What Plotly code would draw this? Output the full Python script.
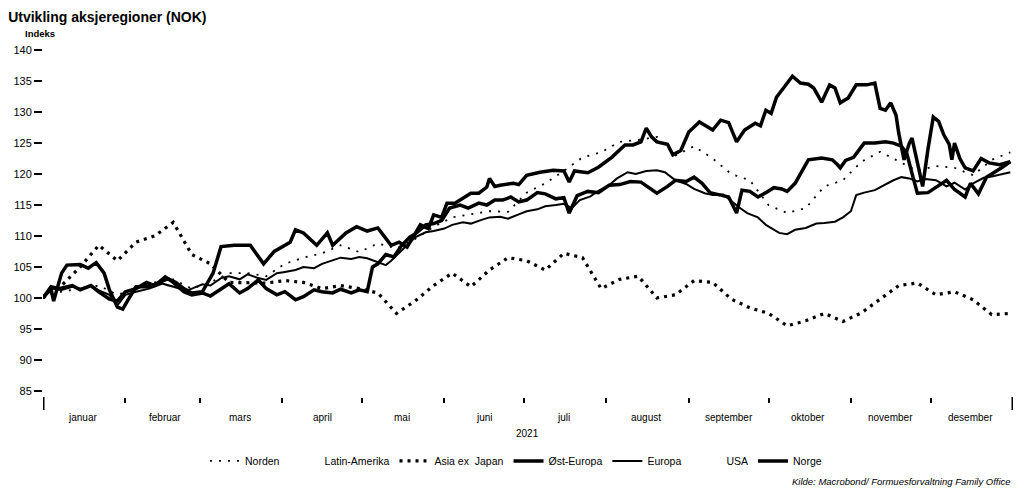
import pandas as pd
import plotly.graph_objects as go

# ---- data (index 2021-01-01 = 100) ----
# dotted series: weekly readings
dates = pd.date_range("2021-01-01", periods=53, freq="7D")

norden = [100, 101, 101.5, 102, 100.5, 101.5, 102.5, 103, 101.5, 102.5, 104, 104, 103.5,
          105.5, 106.5, 107.2, 108.5, 107.4, 108.8, 108, 109.5, 111.5, 113, 113.5, 114, 113.9,
          117, 118.5, 120.5, 122.7, 123.5, 125.2, 125.5, 126, 123, 124.5, 122.5, 120, 119,
          115, 113.7, 114.5, 118, 119, 122, 123.6, 122, 120.5, 121.3, 121, 119.8, 122.3, 123.5]

asia_ex_japan = [100, 102, 105, 108.5, 106, 109, 110, 112.2, 107, 105.5, 102.5, 102.5, 102.4,
                 102.8, 102.5, 101.5, 102, 101.5, 100.8, 97.5, 99.5, 102, 104, 101.8, 104.5, 106.5,
                 106, 104.5, 107.2, 106.5, 101.5, 103, 103.5, 100, 100.5, 102.8, 102.5, 99.8, 98.4,
                 97.5, 95.5, 96.3, 97.5, 96.2, 97.6, 99.8, 102, 102.4, 100.5, 101, 99.7, 97.3, 97.5]

# solid series: readings at turning points (month-day in 2021)
ost_europa_days = ["01-01", "01-04", "01-05", "01-08", "01-10", "01-15", "01-18", "01-21", "01-24",
                   "01-26", "01-29", "01-31", "02-02", "02-05", "02-10", "02-14", "02-17", "02-20",
                   "02-23", "02-26", "03-02", "03-06", "03-09", "03-14", "03-20", "03-25", "03-29",
                   "04-04", "04-06", "04-09", "04-14", "04-18", "04-20", "04-25", "04-29", "05-03",
                   "05-07", "05-12", "05-15", "05-18", "05-21", "05-23", "05-26", "05-28", "05-31",
                   "06-02", "06-05", "06-07", "06-11", "06-14", "06-17", "06-18", "06-20", "06-22",
                   "06-27", "06-29", "07-02", "07-07", "07-12", "07-16", "07-18", "07-20", "07-25",
                   "07-29", "08-03", "08-08", "08-11", "08-14", "08-16", "08-18", "08-20", "08-24",
                   "08-26", "08-29", "09-01", "09-05", "09-10", "09-13", "09-16", "09-19", "09-22",
                   "09-26", "09-28", "09-30", "10-02", "10-04", "10-07", "10-10", "10-13", "10-16",
                   "10-18", "10-21", "10-24", "10-26", "10-28", "10-31", "11-03", "11-07", "11-10",
                   "11-12", "11-14", "11-16", "11-18", "11-19", "11-21", "11-23", "11-24", "11-26",
                   "11-28", "11-30", "12-02", "12-04", "12-06", "12-08", "12-09", "12-10", "12-12",
                   "12-14", "12-17", "12-20", "12-23", "12-27", "12-31"]
ost_europa = [100, 101.5, 99.5, 104, 105.3, 105.4, 104.8, 105.7, 104,
              101.3, 98.5, 98.2, 99.7, 101.8, 101.8, 102.5, 103.1, 102.5,
              101.5, 100.8, 101, 104, 108.3, 108.5, 108.5, 105.5, 107.5,
              109, 111, 110.5, 108.5, 110.5, 108.5, 110.5, 111.5, 110.8,
              111.3, 108.5, 109, 108.2, 110.5, 111.8, 111.2, 113.4, 113,
              115.3, 115.3, 115.8, 116.9, 116.9, 117.9, 119.3, 118, 118.2,
              118.5, 118.3, 119.8, 120.3, 120.6, 120.5, 118.7, 120.5, 120.2,
              121.1, 122.7, 124.7, 124.7, 125.2, 127.4, 126, 125.2, 124.8,
              123.1, 123.8, 126.8, 128.4, 127.1, 128.7, 128.3, 125.2, 127.1,
              128.2, 127.8, 130.3, 129.8, 132.4, 134, 135.8, 134.7, 134.5,
              133.9, 131.6, 134.4, 133.9, 131.5, 132.3, 134.4, 134.4, 134.7,
              130.6, 130.3, 131.5, 129.5, 126.6, 122.3, 125, 125.8, 122,
              118, 124, 129.2, 128.5, 126.3, 124.8, 122.3, 125, 122.5,
              121, 120.5, 122.5, 121.8, 121.5, 122]

norge_days = ["01-01", "01-04", "01-07", "01-12", "01-15", "01-19", "01-22", "01-26", "01-29",
              "02-01", "02-05", "02-09", "02-12", "02-16", "02-19", "02-23", "02-26", "03-02",
              "03-05", "03-09", "03-12", "03-16", "03-19", "03-23", "03-26", "03-30", "04-02",
              "04-06", "04-09", "04-13", "04-16", "04-20", "04-23", "04-27", "04-30", "05-03",
              "05-05", "05-07", "05-10", "05-13", "05-16", "05-19", "05-21", "05-25", "05-28",
              "05-31", "06-03", "06-07", "06-10", "06-14", "06-17", "06-20", "06-23", "06-26",
              "06-29", "07-02", "07-06", "07-09", "07-13", "07-16", "07-18", "07-21", "07-25",
              "07-29", "08-02", "08-06", "08-10", "08-14", "08-17", "08-20", "08-24", "08-27",
              "08-31", "09-03", "09-06", "09-09", "09-13", "09-16", "09-19", "09-21", "09-24",
              "09-27", "09-30", "10-03", "10-06", "10-08", "10-11", "10-13", "10-16", "10-21",
              "10-25", "10-27", "10-28", "10-30", "11-02", "11-06", "11-10", "11-14", "11-17",
              "11-20", "11-22", "11-24", "11-26", "11-30", "12-03", "12-07", "12-10", "12-14",
              "12-16", "12-19", "12-22", "12-26", "12-28", "12-31"]
norge = [100, 101.8, 101.5, 102, 101.3, 102, 101, 99.8, 99.5,
         101, 101.5, 102.5, 102, 103.4, 102.5, 101, 100.5, 100.8,
         100.3, 101.5, 102.3, 100.8, 101.5, 102.9, 101.5, 100.5, 101,
         99.7, 100.2, 101.3, 101, 100.8, 101.4, 100.8, 101.3, 101,
         105, 105.5, 107, 106.6, 108.5, 109.8, 110.3, 111.8, 112,
         112.5, 114.5, 115, 114.5, 115.3, 115, 115.8, 115.8, 116.3,
         115.5, 115.8, 117, 116.8, 116, 116.2, 113.7, 116.5, 117.2,
         117, 118.2, 118.3, 118.8, 118.7, 117.8, 116.9, 118, 119,
         118.8, 119.5, 118.5, 117, 116.6, 116.3, 113.7, 117.4, 117.2,
         116.3, 117, 117.8, 117.6, 117.2, 118.5, 120.1, 122.3, 122.6,
         122.3, 121.5, 121, 122.2, 122.7, 125, 125, 125.2, 125,
         124.5, 123.4, 120.1, 116.9, 117, 117.9, 119, 117.5, 116.3,
         118.5, 116.8, 119.5, 120.5, 121.1, 122]

europa_days = ["01-01", "01-04", "01-08", "01-12", "01-15", "01-19", "01-22", "01-26", "01-29",
               "02-01", "02-05", "02-10", "02-15", "02-19", "02-24", "02-26", "03-02", "03-05",
               "03-09", "03-12", "03-16", "03-19", "03-23", "03-26", "03-30", "04-02", "04-06",
               "04-09", "04-13", "04-16", "04-20", "04-23", "04-27", "04-30", "05-03", "05-07",
               "05-10", "05-12", "05-15", "05-18", "05-21", "05-25", "05-28", "06-01", "06-04",
               "06-08", "06-11", "06-15", "06-18", "06-22", "06-25", "06-29", "07-02", "07-06",
               "07-09", "07-13", "07-16", "07-19", "07-22", "07-26", "07-29", "08-02", "08-05",
               "08-09", "08-12", "08-16", "08-20", "08-23", "08-27", "08-31", "09-03", "09-07",
               "09-10", "09-14", "09-17", "09-20", "09-23", "09-27", "09-30", "10-03", "10-05",
               "10-08", "10-11", "10-15", "10-19", "10-22", "10-26", "10-29", "11-01", "11-03",
               "11-06", "11-10", "11-14", "11-17", "11-20", "11-23", "11-26", "11-29", "12-03",
               "12-07", "12-10", "12-14", "12-17", "12-21", "12-24", "12-28", "12-31"]
europa = [100, 101.5, 101.3, 101.8, 101.5, 102, 101.2, 100.5, 98.8,
          100.5, 101, 101.5, 102.3, 101.8, 101.2, 101.5, 102.2, 102,
          103.2, 103.5, 103, 103.8, 103.2, 102.9, 104, 104.2, 104.5,
          105, 104.8, 105.5, 106.1, 106.5, 106.3, 106.6, 106.4, 105.8,
          105.3, 106, 107.3, 108.5, 109.8, 110.6, 110.8, 111.2, 111.8,
          112.2, 112, 112.6, 113, 113.1, 112.8, 113.5, 114, 114.3,
          114.8, 115, 115.2, 114.5, 115.8, 116.4, 117.3, 118.2, 119.3,
          120.3, 120, 120.5, 120.6, 120.3, 119, 118.4, 117.6, 116.9,
          116.6, 116.7, 115.6, 114.6, 113.7, 113, 111.8, 111, 110.5,
          110.3, 111, 111.3, 112, 112.1, 112.3, 113, 114, 116.6,
          117, 117.4, 118.3, 119, 119.5, 119.3, 118.8, 119.2, 119,
          118, 118.6, 117.5, 118.5, 119.4, 119.6, 120, 120.3]

latin_amerika = [None]   # series not visible in the reference
usa = [None]             # series not visible in the reference

month_starts = pd.date_range("2021-01-01", periods=12, freq="MS")
month_mids = month_starts + pd.Timedelta(days=15)
month_labels = ["januar", "februar", "mars", "april", "mai", "juni", "juli",
                "august", "september", "oktober", "november", "desember"]
y_ticks = [85, 90, 95, 100, 105, 110, 115, 120, 125, 130, 135, 140]

FONT = "Liberation Sans, Arial, sans-serif"


def to_dates(days):
    return pd.to_datetime(["2021-" + d for d in days])


fig = go.Figure()
fig.add_trace(go.Scatter(x=dates, y=norden, name="Norden", mode="lines",
                         line=dict(color="black", width=1.8, dash="2px,7px")))
fig.add_trace(go.Scatter(x=[None], y=latin_amerika, name="Latin-Amerika", mode="lines",
                         line=dict(color="rgba(0,0,0,0)", width=2)))
fig.add_trace(go.Scatter(x=dates, y=asia_ex_japan, name="Asia ex  Japan", mode="lines",
                         line=dict(color="black", width=3.2, dash="3px,5px")))
fig.add_trace(go.Scatter(x=to_dates(ost_europa_days), y=ost_europa, name="Øst-Europa",
                         mode="lines", line=dict(color="black", width=3.5)))
fig.add_trace(go.Scatter(x=to_dates(europa_days), y=europa, name="Europa", mode="lines",
                         line=dict(color="black", width=2)))
fig.add_trace(go.Scatter(x=[None], y=usa, name="USA", mode="lines",
                         line=dict(color="rgba(0,0,0,0)", width=2)))
fig.add_trace(go.Scatter(x=to_dates(norge_days), y=norge, name="Norge", mode="lines",
                         line=dict(color="black", width=3.5)))

annotations = []
for d, lab in zip(month_mids, month_labels):
    annotations.append(dict(x=d, y=-0.057, xref="x", yref="paper", text=lab, showarrow=False,
                            xanchor="center", yanchor="middle",
                            font=dict(family=FONT, size=10, color="black")))
annotations += [
    dict(x=0.4995, y=-0.102, xref="paper", yref="paper", text="2021", showarrow=False,
         xanchor="center", yanchor="middle", font=dict(family=FONT, size=10, color="black")),
    dict(x=-0.021, y=1.031, xref="paper", yref="paper", text="<b>Indeks</b>", showarrow=False,
         xanchor="left", yanchor="middle", font=dict(family=FONT, size=9.5, color="black")),
    dict(x=1.0, y=-0.238, xref="paper", yref="paper",
         text="<i>Kilde: Macrobond/ Formuesforvaltning Family Office</i>", showarrow=False,
         xanchor="right", yanchor="middle", font=dict(family=FONT, size=9.5, color="black")),
]

shapes = []
for d in ["2021-01-01", "2022-01-01"]:
    shapes.append(dict(type="line", xref="x", yref="paper", x0=d, x1=d, y0=0, y1=-0.037,
                       line=dict(color="black", width=3)))

fig.update_layout(
    width=1018, height=491,
    margin=dict(l=43, r=5, t=44, b=94, autoexpand=False),
    paper_bgcolor="white", plot_bgcolor="white",
    font=dict(family=FONT, size=10, color="black"),
    title=dict(text="<b>Utvikling aksjeregioner (NOK)</b>", xref="container", yref="container",
               x=0.008, y=0.965, xanchor="left", yanchor="middle",
               font=dict(family=FONT, size=14, color="black")),
    showlegend=True,
    legend=dict(orientation="h", x=0.4876, xanchor="center", y=-0.181, yanchor="middle",
                font=dict(family=FONT, size=10.5, color="black"), itemwidth=30,
                bgcolor="rgba(0,0,0,0)"),
    xaxis=dict(type="date", range=["2021-01-01", "2022-01-01"], tickmode="array",
               tickvals=month_starts[1:], ticks="outside", ticklen=5, tickwidth=1.5,
               tickcolor="black", showticklabels=False, showgrid=False, zeroline=False,
               showline=False, automargin=False),
    yaxis=dict(range=[84, 141], tickmode="array", tickvals=y_ticks, ticks="outside",
               ticklen=8, tickwidth=1.5, tickcolor="black", showgrid=False, zeroline=False,
               showline=False, automargin=False,
               tickfont=dict(family=FONT, size=11, color="black")),
    annotations=annotations,
    shapes=shapes,
)

fig.write_html("out.html", config={"displayModeBar": False},
               post_script="document.body.style.margin='0';document.body.style.padding='0';")
